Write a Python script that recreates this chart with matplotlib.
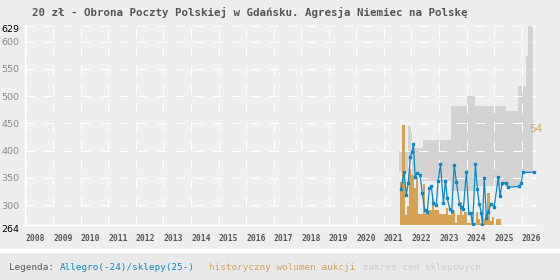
import matplotlib
matplotlib.use('Agg')
import matplotlib.pyplot as plt
import matplotlib.transforms as mtransforms
import pandas as pd

# cena: Allegro (do 2024) / sklepy (od 2025), rok dziesietny -> zl
price_years = [2021.62, 2021.73, 2021.81, 2021.88, 2021.96, 2022.01, 2022.07, 2022.13,
               2022.20, 2022.31, 2022.39, 2022.48, 2022.57, 2022.65, 2022.72, 2022.79,
               2022.90, 2022.97, 2023.05, 2023.16, 2023.23, 2023.30, 2023.39, 2023.46,
               2023.55, 2023.63, 2023.74, 2023.81, 2023.88, 2023.99, 2024.08, 2024.15,
               2024.22, 2024.32, 2024.39, 2024.46, 2024.53, 2024.57, 2024.64, 2024.72,
               2024.79, 2024.88, 2025.00, 2025.15, 2025.21, 2025.29, 2025.43, 2025.49,
               2025.91, 2025.99, 2026.04, 2026.45]
price_values = [329, 360, 318, 340, 388, 397, 412, 352,
                358, 356, 322, 291, 287, 331, 334, 303,
                300, 345, 375, 303, 345, 312, 292, 289,
                373, 342, 302, 297, 292, 360, 286, 286,
                265, 375, 329, 302, 286, 264, 349, 277,
                288, 302, 296, 351, 316, 340, 340, 333,
                334, 341, 360, 360]

# historyczny wolumen aukcji, miesiecznie od 2021-08
vol_start = '2021-08'
vol_values = [23, 54, 5, 10, 30, 27, 20, 26, 6, 6,
              22, 6, 8, 8, 14, 8, 8, 6, 6, 6,
              9, 5, 7, 7, 1, 5, 12, 5, 7, 1,
              1, 4, 1, 7, 3, 1, 3, 6, 17, 2,
              4, 0, 3, 3]

# zakres cen sklepowych (schodkowo)
band_edges = [2021.55, 2021.88, 2022.03, 2022.43, 2023.45, 2024.00, 2024.30,
              2025.43, 2025.85, 2025.97, 2026.14, 2026.22, 2026.40]
band_low = [360, 380, 355, 345, 325, 325, 335, 334, 334, 360, 360, 360]
band_high = [400, 445, 404, 420, 481, 500, 481, 473, 518, 518, 574, 629]

year_ticks = list(range(2008, 2027))
price_ticks = [264, 300, 350, 400, 450, 500, 550, 600, 629]
vol_max_label = 54

BG = '#eeeeee'
BLUE = '#0a88cc'
ORANGE = '#d6a354'
GREY = '#d3d3d3'

fig = plt.figure(figsize=(5.6, 2.8), dpi=100, facecolor=BG)
ax = fig.add_axes([25 / 560, 55.4 / 280, 511 / 560, 198.7 / 280])
ax.set_facecolor(BG)
ax.set_xlim(2007.975, 2026.518)
ax.set_ylim(264, 629)

# pasmo cen sklepowych
ax.fill_between(band_edges, band_low + band_low[-1:], band_high + band_high[-1:],
                step='post', color=GREY, lw=0, zorder=0.2)

ax.set_axisbelow(True)
ax.grid(True, color='white', lw=0.75, ls=(0, (9, 9)))
for s in ['top', 'right']:
    ax.spines[s].set_visible(False)
for s in ['left', 'bottom']:
    ax.spines[s].set_color('white')
    ax.spines[s].set_linewidth(1)

ax.set_xticks(year_ticks)
ax.set_xticklabels([str(y) for y in year_ticks], family='DejaVu Sans Mono',
                   fontsize=5.8, fontweight='bold', color='#555555', ha='left')
ax.tick_params(axis='x', length=0, pad=7)
ax.set_yticks(price_ticks)
ax.set_yticklabels([str(p) for p in price_ticks], fontsize=6.8, color='#888888')
ax.tick_params(axis='y', length=0, pad=4)
for lab in ax.get_yticklabels():
    if lab.get_text() in ('264', '629'):
        lab.set_color('black')
        shift = -4 if lab.get_text() == '264' else -3
        lab.set_transform(lab.get_transform() +
                          mtransforms.ScaledTranslation(0, shift / 100, fig.dpi_scale_trans))

# wolumen
ax2 = ax.twinx()
months = pd.period_range(vol_start, periods=len(vol_values), freq='M')
vol_x = [m.year + (m.month - 1) / 12 for m in months]
ax2.bar(vol_x, vol_values, width=1 / 12, align='edge', color=ORANGE, lw=0)
ax2.set_ylim(0, 107.7)
ax2.axis('off')
ax2.text(2026.27, 51.8, str(vol_max_label), color=ORANGE, fontsize=7.5,
         va='center', ha='left', clip_on=False)

# cena
ax3 = ax.twinx()
ax3.plot(price_years, price_values, color=BLUE, lw=0.9, marker='s', ms=2.1)
ax3.set_ylim(264, 629)
ax3.set_xlim(2007.975, 2026.518)
ax3.axis('off')

fig.text(32 / 560, 1 - 12.7 / 280,
         '20 zł - Obrona Poczty Polskiej w Gdańsku. Agresja Niemiec na Polskę',
         family='DejaVu Sans Mono', fontsize=7.8, fontweight='bold',
         color='#555555', va='center', ha='left')

# legenda
fig.patches.append(plt.Rectangle((0, 0), 1, 28 / 280, transform=fig.transFigure,
                                 color='#e9e9e9', zorder=-1))
fig.patches.append(plt.Rectangle((0, 28 / 280), 1, 3 / 280, transform=fig.transFigure,
                                 color='white', zorder=-1))
ly = 1 - 267 / 280
for x, txt, col in [(9, 'Legenda:', '#555555'),
                    (60, 'Allegro(-24)/sklepy(25-)', BLUE),
                    (209, 'historyczny wolumen aukcji', ORANGE),
                    (363, 'zakres cen sklepowych', '#cccccc')]:
    fig.text(x / 560, ly, txt, family='DejaVu Sans Mono', fontsize=6.7,
             color=col, va='center', ha='left')

fig.savefig('out.png', dpi=100, facecolor=BG)
